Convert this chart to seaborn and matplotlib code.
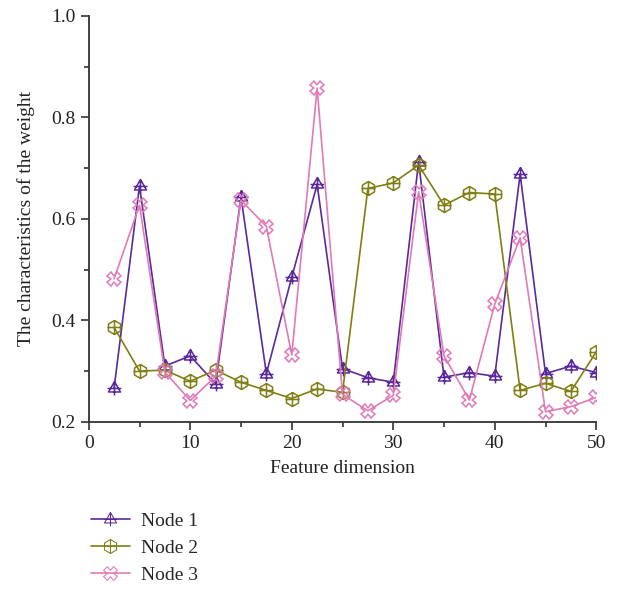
import matplotlib
matplotlib.use("Agg")
from matplotlib import pyplot as plt
from matplotlib.path import Path
from matplotlib.ticker import MultipleLocator
import numpy as np
import pandas as pd
import seaborn as sns

dims = [2.5, 5, 7.5, 10, 12.5, 15, 17.5, 20, 22.5, 25,
        27.5, 30, 32.5, 35, 37.5, 40, 42.5, 45, 47.5, 50]
node1 = [0.267, 0.665, 0.310, 0.330, 0.275, 0.643, 0.295, 0.485, 0.668, 0.305,
         0.287, 0.278, 0.713, 0.288, 0.297, 0.290, 0.688, 0.295, 0.310, 0.297]
node2 = [0.386, 0.300, 0.302, 0.280, 0.302, 0.278, 0.262, 0.246, 0.265, 0.258,
         0.660, 0.671, 0.706, 0.627, 0.652, 0.649, 0.262, 0.276, 0.260, 0.338]
node3 = [0.482, 0.627, 0.298, 0.242, 0.290, 0.637, 0.585, 0.332, 0.858, 0.254,
         0.222, 0.252, 0.653, 0.330, 0.243, 0.432, 0.563, 0.220, 0.230, 0.248]
names = ['Node 1', 'Node 2', 'Node 3']
colors = ['#5b2a9a', '#7f7f14', '#e07ab8']

df = pd.DataFrame({'dim': dims * 3,
                   'w': node1 + node2 + node3,
                   'node': np.repeat(names, len(dims))})

# compound markers: shape with a cross inside
plus = Path([(-1, 0), (1, 0), (0, -1), (0, 1)],
            [Path.MOVETO, Path.LINETO, Path.MOVETO, Path.LINETO])
tri_plus = Path.make_compound_path(Path.unit_regular_polygon(3), plus)
hex_plus = Path.make_compound_path(Path.unit_regular_polygon(6), plus)

sns.set_style('ticks')
plt.rcParams['font.family'] = ['Liberation Serif', 'DejaVu Serif']

fig = plt.figure(figsize=(6.25, 5.9), dpi=100)
ax = fig.add_axes([0.142, 0.285, 0.812, 0.688])

sns.lineplot(data=df, x='dim', y='w', hue='node', style='node',
             palette=dict(zip(names, colors)),
             markers={'Node 1': tri_plus, 'Node 2': hex_plus, 'Node 3': 'X'},
             dashes=False, markersize=10, linewidth=1.2,
             markerfacecolor='none', ax=ax)
for line, c in zip(ax.lines, colors):
    line.set_markeredgecolor(c)
    line.set_markerfacecolor('none')
    line.set_markeredgewidth(1.1)

ax.set_xlim(0, 50)
ax.set_ylim(0.2, 1.0)
ax.xaxis.set_major_locator(MultipleLocator(10))
ax.xaxis.set_minor_locator(MultipleLocator(5))
ax.yaxis.set_major_locator(MultipleLocator(0.2))
ax.yaxis.set_minor_locator(MultipleLocator(0.1))
ax.yaxis.set_major_formatter(matplotlib.ticker.FormatStrFormatter('%.1f'))
ax.tick_params(which='major', length=6, width=1.2, labelsize=14, colors='#333333', labelcolor='#222222')
ax.tick_params(which='minor', length=3.5, width=1.2, colors='#333333')
for s in ['left', 'bottom']:
    ax.spines[s].set_linewidth(1.3)
    ax.spines[s].set_color('#333333')
sns.despine(ax=ax)
ax.set_xlabel('Feature dimension', fontsize=14, color='#222222', labelpad=6)
ax.set_ylabel('The characteristics of the weight', fontsize=14, color='#222222', labelpad=12)

handles, labels = ax.get_legend_handles_labels()
for h, c in zip(handles, colors):
    h.set_markerfacecolor('none')
    h.set_markeredgecolor(c)
ax.legend(handles, labels, loc='upper left', bbox_to_anchor=(0.117, 0.162),
          bbox_transform=fig.transFigure, frameon=False, fontsize=14,
          handlelength=2.0, labelspacing=0.5, handletextpad=0.6)

fig.savefig('out.png', dpi=100)
